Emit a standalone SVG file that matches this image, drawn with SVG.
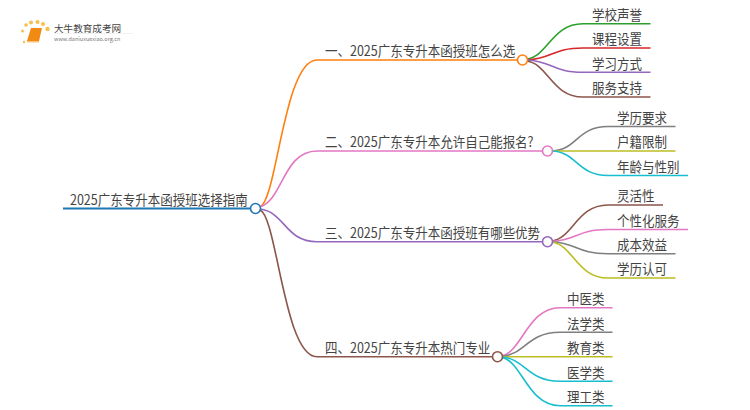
<svg xmlns="http://www.w3.org/2000/svg" width="750" height="410" viewBox="0 0 750 410">
<style>
text{font-family:"Noto Sans CJK SC","Noto Sans",sans-serif;fill:#444}
.m{font-size:12.5px}
.l{fill:none;stroke-width:1.6}
.t{stroke-width:2}
.n{fill:#fff;stroke-width:1.6}
.d{fill:#f6c050}
</style>
<rect width="750" height="410" fill="#fff"/>
<g id="logo">
<circle class="d" cx="24" cy="42" r="1.200"/><circle class="d" cx="22.500" cy="31" r="1.500"/><circle class="d" cx="26" cy="25" r="1.800"/><circle class="d" cx="31" cy="22.500" r="2"/><circle class="d" cx="37.500" cy="22" r="2.100"/><circle class="d" cx="43" cy="24" r="2.100"/><circle class="d" cx="47.500" cy="29" r="2.200"/>
<path d="M31,28 L42,28 L39,41 L27,41 Z" fill="#f08a12"/><path d="M27,41 L39,41 L39,42.500 L27,42.500 Z" fill="#f8c47a"/>
<path d="M54,33.500H133" stroke="#eee" stroke-width="0.800"/>
<text x="54" y="31.500" style="font-size:9.600px;fill:#444">大牛教育成考网</text>
<text x="54" y="41" style="font-size:5.500px;fill:#777">www.daniuxuexiao.org.cn</text>
</g>
<g id="connectors">
<path class="l t" stroke="#1f77b4" d="M63,208.500H250"/>
<path class="l" stroke="#ff7f0e" d="M260,207C277,200 284,60 317,60H518"/>
<path class="l" stroke="#e377c2" d="M260,207C283,200 283,151 317,151H543"/>
<path class="l" stroke="#9467bd" d="M260,209C285,212 285,241.700 317,241.700H543"/>
<path class="l" stroke="#8c564b" d="M260,210C277,216 284,356.700 317,356.700H492"/>
<path class="l" stroke="#2ca02c" d="M527,59C548,56 552,23.700 583,23.700H650.500"/>
<path class="l" stroke="#d62728" d="M527,60C552,59 552,48 583,48H650.500"/>
<path class="l" stroke="#9467bd" d="M527,60C552,61 552,72.300 583,72.300H650.500"/>
<path class="l" stroke="#8c564b" d="M527,61C548,64 552,97 583,97H650.500"/>
<path class="l" stroke="#7f7f7f" d="M552,151C577,150 577,126.500 608,126.500H675.500"/>
<path class="l" stroke="#bcbd22" d="M552,151H675.500"/>
<path class="l" stroke="#17becf" d="M552,151C577,152 577,175.500 608,175.500H688"/>
<path class="l" stroke="#8c564b" d="M552,241C573,238 577,205 608,205H663"/>
<path class="l" stroke="#e377c2" d="M552,241.300C577,240 577,229.500 608,229.500H688"/>
<path class="l" stroke="#7f7f7f" d="M552,241.700C577,243 577,253.700 608,253.700H675.500"/>
<path class="l" stroke="#bcbd22" d="M552,242C573,245 577,278 608,278H675.500"/>
<path class="l" stroke="#e377c2" d="M501,356C522,353 527,307.700 560,307.700H612.500"/>
<path class="l" stroke="#7f7f7f" d="M501,356.300C525,355 527,332.300 560,332.300H612.500"/>
<path class="l" stroke="#bcbd22" d="M501,356.700H612.500"/>
<path class="l" stroke="#17becf" d="M501,357C525,358 527,381.300 560,381.300H612.500"/>
<path class="l" stroke="#17becf" d="M501,357.300C522,360 527,405.700 560,405.700H612.500"/>
</g>
<g id="root"><text class="m" transform="matrix(1 0 0 1.130 70 204.700)">2025广东专升本函授班选择指南</text><circle class="n" cx="255.500" cy="208.500" r="5" stroke="#1f77b4"/></g>
<g id="n1"><text class="m" transform="matrix(1 0 0 1.130 325 56.200)">一、2025广东专升本函授班怎么选</text><circle class="n" cx="522.500" cy="60" r="5" stroke="#ff7f0e"/></g>
<g id="n2"><text class="m" transform="matrix(1 0 0 1.130 325 147.200)">二、2025广东专升本允许自己能报名?</text><circle class="n" cx="547.500" cy="151" r="5" stroke="#e377c2"/></g>
<g id="n3"><text class="m" transform="matrix(1 0 0 1.130 325 237.900)">三、2025广东专升本函授班有哪些优势</text><circle class="n" cx="547.500" cy="241.700" r="5" stroke="#9467bd"/></g>
<g id="n4"><text class="m" transform="matrix(1 0 0 1.130 325 352.900)">四、2025广东专升本热门专业</text><circle class="n" cx="497.500" cy="356.700" r="5" stroke="#8c564b"/></g>
<g id="n1a"><text class="m" transform="matrix(1 0 0 1.130 592 19.900)">学校声誉</text></g>
<g id="n1b"><text class="m" transform="matrix(1 0 0 1.130 592 44.200)">课程设置</text></g>
<g id="n1c"><text class="m" transform="matrix(1 0 0 1.130 592 68.500)">学习方式</text></g>
<g id="n1d"><text class="m" transform="matrix(1 0 0 1.130 592 93.200)">服务支持</text></g>
<g id="n2a"><text class="m" transform="matrix(1 0 0 1.130 617 122.700)">学历要求</text></g>
<g id="n2b"><text class="m" transform="matrix(1 0 0 1.130 617 147.200)">户籍限制</text></g>
<g id="n2c"><text class="m" transform="matrix(1 0 0 1.130 617 171.700)">年龄与性别</text></g>
<g id="n3a"><text class="m" transform="matrix(1 0 0 1.130 617 201.200)">灵活性</text></g>
<g id="n3b"><text class="m" transform="matrix(1 0 0 1.130 617 225.700)">个性化服务</text></g>
<g id="n3c"><text class="m" transform="matrix(1 0 0 1.130 617 249.900)">成本效益</text></g>
<g id="n3d"><text class="m" transform="matrix(1 0 0 1.130 617 274.200)">学历认可</text></g>
<g id="n4a"><text class="m" transform="matrix(1 0 0 1.130 567 303.900)">中医类</text></g>
<g id="n4b"><text class="m" transform="matrix(1 0 0 1.130 567 328.500)">法学类</text></g>
<g id="n4c"><text class="m" transform="matrix(1 0 0 1.130 567 352.900)">教育类</text></g>
<g id="n4d"><text class="m" transform="matrix(1 0 0 1.130 567 377.500)">医学类</text></g>
<g id="n4e"><text class="m" transform="matrix(1 0 0 1.130 567 401.900)">理工类</text></g>
</svg>
